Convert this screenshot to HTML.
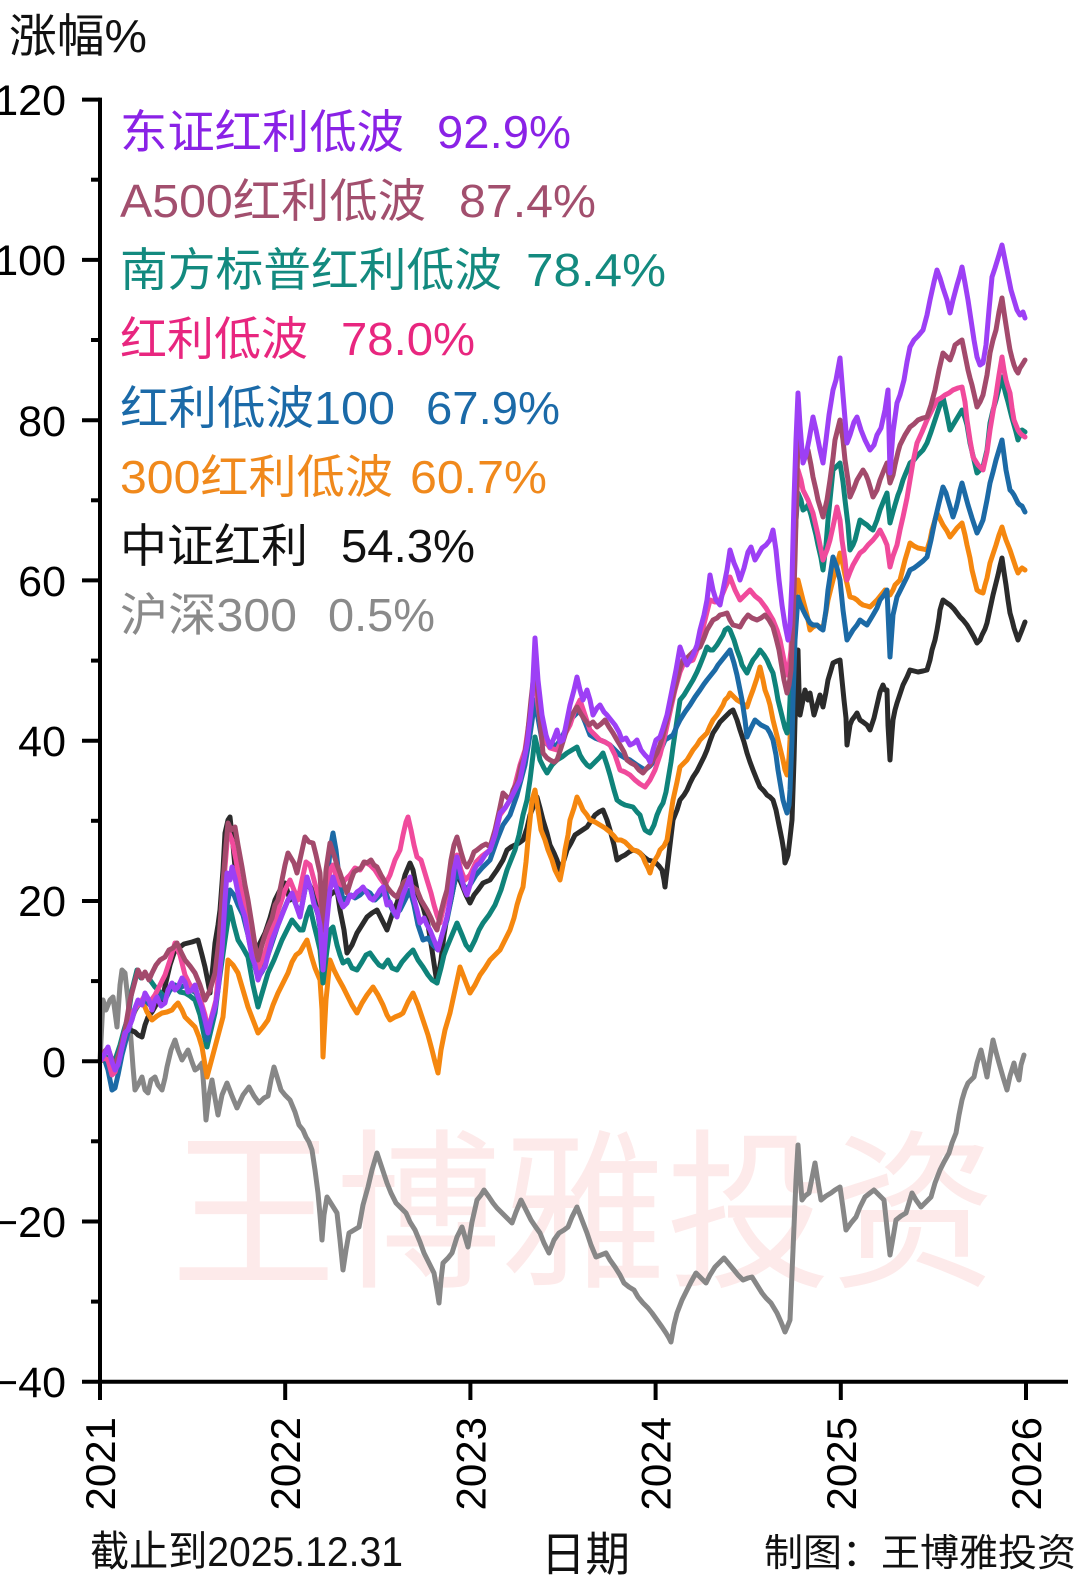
<!DOCTYPE html>
<html>
<head>
<meta charset="utf-8">
<style>
html,body{margin:0;padding:0;background:#fff;}
svg{display:block;}
text{font-family:"Liberation Sans","Noto Sans CJK SC",sans-serif;}
</style>
</head>
<body>
<svg width="1080" height="1578" viewBox="0 0 1080 1578" xmlns="http://www.w3.org/2000/svg">
<rect width="1080" height="1578" fill="#fff"/>

<!-- watermark -->
<text x="171" y="1274" font-size="172" fill="#fdeaea" textLength="825" lengthAdjust="spacingAndGlyphs">王博雅投资</text>

<!-- y label -->
<text x="9" y="52" font-size="46" fill="#111" textLength="138" lengthAdjust="spacingAndGlyphs">涨幅%</text>

<!-- series -->
<g fill="none" stroke-width="5" stroke-linejoin="round" stroke-linecap="round">
<!-- gray 沪深300 -->
<polyline stroke="#878787" points="100,1061 103,1000 106,1010 110,1000 113,997 117,1027 120,985 122,970 125,973 128,1000 131,1040 133,1067 135,1090 138,1085 142,1077 145,1090 148,1093 151,1080 155,1077 158,1085 162,1090 165,1078 167,1067 171,1050 175,1040 178,1050 182,1060 185,1055 188,1050 192,1062 195,1070 198,1068 202,1063 204,1090 206,1120 209,1095 212,1080 215,1098 218,1115 222,1095 227,1083 232,1096 237,1108 243,1095 249,1087 254,1096 259,1103 264,1098 268,1096 271,1080 274,1067 278,1080 281,1090 285,1095 290,1100 295,1112 299,1125 303,1130 306,1137 309,1142 312,1150 315,1170 318,1193 320,1215 322,1240 324,1215 327,1197 332,1205 337,1213 340,1240 343,1270 346,1250 349,1233 354,1230 359,1227 363,1205 368,1187 372,1170 377,1153 382,1168 387,1183 391,1193 396,1203 401,1208 406,1213 410,1222 415,1230 420,1242 424,1253 429,1263 434,1273 437,1290 439,1303 441,1280 443,1263 448,1258 452,1253 457,1237 462,1227 465,1237 468,1247 472,1222 477,1200 481,1195 484,1190 489,1197 493,1203 497,1208 502,1213 507,1218 512,1223 516,1212 521,1200 526,1210 531,1220 535,1226 540,1233 544,1243 549,1253 554,1240 559,1233 564,1230 568,1227 572,1217 577,1207 582,1220 587,1233 591,1245 596,1257 601,1255 606,1253 610,1260 615,1267 620,1275 624,1283 629,1287 634,1290 638,1297 643,1303 648,1308 652,1313 657,1320 662,1327 666,1333 669,1338 671,1342 674,1325 677,1313 682,1300 687,1290 691,1282 696,1273 701,1278 706,1283 710,1275 715,1267 720,1262 724,1258 729,1264 734,1270 738,1275 743,1280 748,1278 752,1277 757,1285 762,1293 766,1298 771,1303 774,1308 777,1313 781,1322 785,1332 788,1325 790,1320 793,1250 796,1180 798,1145 800,1175 802,1200 805,1196 809,1193 812,1178 815,1163 818,1182 821,1200 826,1196 831,1193 835,1190 840,1187 843,1208 846,1230 851,1223 856,1217 860,1207 865,1197 870,1193 874,1190 879,1195 884,1200 887,1228 890,1255 893,1238 896,1220 901,1216 906,1213 909,1203 912,1193 916,1200 921,1207 926,1202 931,1197 935,1183 940,1170 944,1162 949,1153 952,1143 956,1133 959,1115 962,1100 965,1090 968,1083 971,1080 974,1077 977,1063 981,1050 984,1063 987,1077 990,1058 993,1040 996,1052 999,1063 1003,1077 1007,1090 1010,1076 1014,1063 1016,1072 1019,1080 1021,1065 1024,1055"/>

<!-- black 中证红利 -->
<polyline stroke="#2b2b2b" points="100,1061 104,1058 108,1063 112,1066 115,1062 120,1050 125,1035 130,1030 135,1032 138,1035 142,1037 145,1025 148,1017 152,1012 156,1005 160,1002 162,1000 166,982 170,965 175,950 180,947 184,944 188,943 192,942 195,941 198,940 202,955 205,967 208,982 210,993 213,965 215,943 218,925 220,910 223,870 225,833 228,820 230,817 233,845 235,867 240,885 245,900 250,925 255,953 260,943 265,933 270,918 275,900 280,890 285,883 290,900 295,893 300,895 305,885 307,880 312,890 317,905 320,908 323,917 327,905 330,895 334,892 337,890 340,910 344,930 347,953 352,945 357,933 362,925 367,917 372,913 377,910 382,920 387,930 392,915 397,903 401,890 405,875 410,863 413,870 418,895 423,907 428,925 432,950 435,970 437,983 441,960 444,935 447,917 451,900 454,885 457,873 462,885 466,895 470,903 474,895 478,890 483,883 490,880 497,870 503,860 507,850 511,847 515,845 519,843 523,840 527,828 530,815 534,805 537,797 540,808 543,820 547,833 550,845 554,853 557,860 560,870 564,860 567,850 571,843 575,835 581,831 587,827 591,821 595,815 599,812 603,810 607,820 610,830 614,845 617,860 621,857 625,855 629,852 633,850 637,851 640,853 644,857 648,860 652,861 655,862 659,866 662,870 664,880 665,887 666,878 667,870 670,845 673,820 677,810 680,800 684,795 687,790 690,783 693,777 697,771 700,765 704,757 707,750 710,741 713,733 717,727 720,722 724,718 727,715 730,712 733,710 737,720 740,730 744,742 747,753 750,762 753,770 757,780 760,787 764,791 767,795 770,797 773,800 776,810 778,820 780,830 782,840 784,852 785,863 787,858 788,855 790,838 792,820 794,760 795,720 797,680 798,650 799,690 800,715 803,700 805,690 808,700 810,693 814,715 817,705 820,695 823,707 826,692 828,680 831,670 833,663 837,661 840,660 842,680 844,700 846,718 847,745 850,725 852,720 855,716 857,713 860,720 863,722 867,725 870,730 874,718 877,705 880,692 883,685 885,690 887,690 888,725 890,760 892,732 893,720 895,710 897,703 900,694 903,685 907,677 910,670 914,671 918,672 923,671 927,670 930,660 932,650 935,640 937,630 939,618 940,610 942,603 943,600 947,603 950,605 954,609 957,613 960,617 963,620 967,625 970,630 974,637 977,643 980,640 982,635 985,629 987,623 990,609 993,595 996,583 998,575 1000,566 1002,558 1004,572 1006,585 1008,600 1010,613 1012,620 1014,628 1016,634 1018,640 1020,635 1022,630 1025,622"/>

<!-- orange 300红利低波 -->
<polyline stroke="#f5870f" points="100,1061 104,1060 108,1062 112,1066 115,1063 120,1050 124,1037 128,1027 133,1015 138,1005 142,1000 147,1012 152,1020 157,1016 162,1013 167,1012 172,1010 175,1006 178,1003 182,1010 185,1017 190,1022 195,1027 199,1037 202,1047 205,1065 207,1077 211,1062 215,1047 219,1032 223,1017 226,985 228,960 233,965 238,973 243,990 248,1007 253,1020 258,1033 263,1027 268,1020 273,1005 278,993 283,983 288,973 292,962 296,955 300,952 304,945 307,940 311,955 315,968 320,980 322,1010 323,1057 326,1000 330,960 334,970 338,978 343,987 347,995 352,1005 357,1013 362,1003 367,995 373,987 378,995 383,1005 387,1015 390,1020 395,1017 400,1015 403,1013 408,1002 413,993 418,1005 423,1020 428,1035 432,1050 435,1062 438,1073 441,1050 445,1030 450,1013 455,990 460,967 465,980 470,993 475,985 480,975 485,968 490,960 495,955 500,950 505,940 510,930 514,918 517,905 520,895 523,887 526,862 528,840 530,820 532,800 535,790 538,810 541,830 545,840 548,850 552,860 555,870 560,880 563,865 565,850 568,835 570,820 574,808 577,797 580,803 583,810 587,815 590,820 595,822 600,825 605,828 610,832 614,836 617,840 621,840 625,842 629,846 633,850 637,851 640,853 643,857 645,862 648,868 650,873 652,866 655,860 658,855 660,850 664,846 667,840 670,820 673,800 677,782 680,767 684,763 687,760 690,755 693,750 697,745 700,740 704,736 707,733 710,726 713,720 717,715 720,710 723,705 725,700 728,697 730,693 734,697 737,700 742,703 747,707 750,698 753,690 757,678 760,667 763,680 765,690 768,698 770,705 773,720 776,732 778,740 781,752 783,760 785,770 787,775 789,758 790,740 792,680 793,630 796,595 798,580 801,592 803,600 807,615 810,630 813,627 817,625 820,627 823,628 826,612 828,600 831,588 833,580 837,565 840,553 843,565 845,575 848,588 850,597 854,598 857,600 860,603 863,605 867,606 870,607 874,603 877,600 881,595 885,590 888,593 890,595 893,590 895,585 898,582 900,580 903,568 905,560 908,550 910,543 914,546 918,548 923,549 927,550 930,540 932,530 935,520 937,513 940,519 943,525 947,531 950,537 954,532 957,528 960,525 962,523 965,535 967,545 970,558 972,570 975,582 977,590 980,592 983,593 985,585 987,578 990,563 993,554 996,545 999,535 1002,527 1004,534 1006,540 1008,545 1010,550 1012,556 1014,562 1016,568 1018,573 1020,570 1022,568 1025,570"/>

<!-- teal 南方标普红利低波 -->
<polyline stroke="#0f837a" points="100,1061 104,1056 108,1058 112,1063 115,1060 120,1045 124,1030 128,1017 132,990 137,970 141,978 145,973 150,980 155,987 160,992 165,997 170,990 175,987 180,992 185,993 190,996 195,1000 200,1015 204,1035 207,1047 211,1030 215,1013 220,975 225,940 230,907 234,925 238,940 243,948 248,957 253,985 258,1007 263,990 268,973 274,960 278,950 282,940 287,930 292,920 296,925 300,930 303,930 307,915 310,907 314,925 317,937 320,950 323,983 327,950 330,930 333,927 337,945 340,955 343,963 348,960 352,968 357,970 362,962 366,955 370,953 375,960 379,965 383,967 388,960 392,968 397,970 402,962 408,955 413,950 418,960 423,967 428,975 432,980 437,983 441,968 444,955 447,947 452,935 457,923 462,935 466,945 470,950 475,940 479,930 483,923 489,915 495,905 501,890 507,870 511,860 515,850 519,835 523,815 527,800 530,780 533,755 535,737 538,750 540,760 544,768 547,773 552,765 557,760 562,757 567,753 572,750 577,747 580,755 583,760 587,765 590,767 594,763 597,760 600,757 603,753 607,765 610,775 614,790 617,800 621,803 625,805 629,806 633,807 637,812 640,815 643,825 645,830 648,832 650,833 654,825 657,815 660,808 663,803 666,792 668,780 671,762 673,747 677,720 680,700 684,695 687,690 690,685 693,680 697,672 700,665 704,655 707,647 710,650 713,650 717,645 720,640 723,635 725,630 728,628 730,630 734,640 737,650 740,658 742,665 745,670 747,673 750,666 753,660 757,655 760,650 764,655 767,660 770,667 773,673 776,688 778,700 781,712 783,720 785,728 787,733 789,722 790,700 792,640 793,580 796,520 798,493 801,500 803,510 806,508 808,505 811,515 813,523 816,535 818,545 821,558 823,570 826,545 828,520 831,490 833,470 837,466 840,463 843,482 845,500 848,525 850,550 853,545 855,540 858,528 860,520 864,523 867,525 870,528 873,530 877,520 880,510 884,500 887,493 890,523 893,512 895,505 898,495 900,490 903,480 905,475 908,468 910,463 914,460 918,455 923,450 927,443 931,432 935,420 939,408 943,397 947,415 950,430 953,425 956,420 959,415 962,410 965,418 967,425 970,443 974,460 977,473 980,470 983,467 987,450 990,423 993,410 996,400 999,388 1002,377 1004,387 1006,395 1008,402 1010,410 1012,418 1014,425 1016,432 1018,440 1020,435 1022,430 1025,432"/>

<!-- blue 红利低波100 -->
<polyline stroke="#1c6aa6" points="100,1061 104,1058 108,1070 112,1090 115,1088 118,1075 122,1055 126,1040 130,1025 135,1010 140,1003 145,1000 150,1005 155,998 160,995 165,1000 170,990 175,985 180,988 185,985 190,990 195,992 200,1000 204,1020 207,1040 211,1025 215,1010 220,965 225,915 230,890 234,895 238,905 243,915 248,935 253,960 258,978 263,970 268,955 273,940 278,925 283,912 288,900 292,895 296,905 300,915 304,895 307,880 311,890 314,902 318,915 321,935 323,965 326,900 330,850 333,833 336,850 340,885 343,900 347,898 351,895 355,898 360,895 365,890 370,893 375,900 380,895 385,890 390,905 395,915 400,910 405,900 410,890 414,905 418,925 423,940 428,938 433,945 438,950 442,935 447,920 452,895 457,870 462,882 466,890 470,885 476,875 482,868 490,860 497,840 503,825 510,815 517,795 525,765 530,735 535,700 538,718 542,740 548,745 557,745 563,735 570,720 575,715 580,710 585,722 590,735 595,738 600,740 605,742 610,745 615,750 620,755 625,758 630,760 637,765 645,770 650,766 655,760 660,752 665,740 670,737 673,735 677,726 680,720 685,712 690,705 695,697 700,690 704,684 707,680 711,675 715,670 718,665 722,660 726,655 730,650 734,663 737,675 740,690 742,700 745,720 747,737 751,728 755,720 761,725 767,728 770,733 773,740 776,755 778,770 781,788 783,800 785,807 787,813 789,805 790,790 792,740 793,700 795,640 798,597 800,603 803,610 806,616 810,623 813,625 817,625 820,628 823,630 826,610 828,590 831,570 833,557 837,568 840,580 843,610 847,640 850,635 853,630 857,625 860,620 864,623 867,625 870,620 873,615 877,608 880,600 884,595 887,590 890,657 893,615 897,597 900,591 903,585 907,577 910,570 914,568 918,565 923,561 927,557 931,540 935,520 939,503 943,487 946,493 948,500 951,510 953,517 956,508 958,500 960,490 962,483 965,494 968,505 972,518 977,533 980,527 983,520 987,500 990,483 993,472 996,460 999,450 1002,440 1004,455 1006,470 1008,480 1010,490 1012,492 1014,495 1016,499 1018,503 1020,505 1022,506 1025,512"/>

<!-- pink 红利低波 -->
<polyline stroke="#f04a9c" points="100,1061 104,1058 108,1060 112,1075 115,1072 120,1055 125,1035 130,1015 134,1010 138,1005 142,1000 145,995 150,1002 155,995 160,985 165,975 170,960 175,943 180,955 185,975 190,985 195,990 200,998 205,1015 208,1030 212,1015 216,1000 220,955 224,880 228,830 232,840 236,860 240,885 245,905 250,930 255,955 258,970 262,960 266,950 270,935 275,920 280,905 285,890 290,880 294,890 298,900 302,880 306,862 310,865 314,880 318,895 321,905 323,950 326,900 330,870 333,865 337,880 341,885 345,880 350,875 355,868 360,870 365,862 370,865 375,870 380,878 385,885 390,875 395,860 400,850 403,835 406,822 408,817 411,830 414,845 417,857 421,860 424,870 427,880 431,893 434,905 437,915 440,923 444,905 447,895 451,875 454,862 457,855 461,870 465,880 470,875 476,862 482,856 490,850 495,835 500,815 505,808 510,800 515,785 520,765 525,750 530,715 535,670 538,705 542,735 546,742 550,748 557,750 563,738 570,725 575,710 580,700 585,715 590,730 595,735 600,740 605,742 610,745 615,755 620,770 625,772 630,775 635,780 640,784 645,787 650,780 655,770 660,755 665,735 670,712 675,690 680,672 683,665 688,662 693,660 697,650 700,640 705,620 710,600 715,602 720,600 725,588 730,577 735,590 740,600 745,595 750,590 755,596 760,600 766,608 773,620 777,630 780,640 784,660 787,675 789,668 791,650 793,600 795,540 798,470 801,480 803,490 808,500 813,513 818,535 823,560 827,550 830,540 834,522 837,507 840,520 842,540 845,560 847,580 850,572 853,565 857,558 860,553 864,550 868,545 873,540 877,535 880,530 884,538 887,545 890,567 893,556 897,545 900,530 903,517 907,498 910,480 913,462 917,443 922,432 927,420 932,410 937,400 941,398 945,395 949,393 953,390 958,388 962,387 965,402 967,420 970,440 973,457 978,465 983,470 987,452 990,430 993,412 996,395 999,375 1002,357 1004,370 1006,380 1008,387 1010,393 1012,408 1014,420 1016,425 1018,430 1020,433 1022,435 1025,437"/>

<!-- A500 -->
<polyline stroke="#a34a6c" points="100,1061 104,1052 108,1048 112,1060 115,1066 120,1050 125,1030 130,1000 134,985 138,970 142,978 145,972 149,980 152,973 156,965 160,960 165,957 169,950 173,948 177,943 181,952 185,960 190,966 195,973 200,985 205,1000 210,990 215,973 219,940 223,883 226,845 228,823 231,830 235,827 238,845 242,867 245,885 248,900 252,925 255,945 258,960 262,945 265,935 268,927 272,918 275,905 278,900 282,880 285,865 288,853 291,858 294,863 297,873 301,855 305,837 309,842 313,843 316,855 320,873 323,930 326,870 330,843 334,855 337,865 340,873 344,885 347,893 351,880 354,872 357,870 361,868 364,862 367,863 371,860 374,865 377,867 381,875 384,880 387,887 391,892 394,895 397,897 401,888 404,882 407,880 411,885 414,888 417,890 421,900 424,905 427,910 431,918 434,925 437,930 441,912 444,900 447,890 451,860 454,845 457,837 461,852 464,862 467,867 471,860 474,852 477,850 482,846 486,844 490,847 495,830 499,812 503,793 507,797 510,800 513,790 517,783 521,765 524,758 527,740 531,700 533,682 535,670 538,695 540,720 543,753 547,758 550,760 554,762 557,760 561,748 565,735 569,722 572,715 575,710 577,707 581,714 585,720 589,725 593,722 597,727 601,724 605,720 609,727 613,733 617,740 620,745 624,752 627,760 631,763 635,765 639,770 643,773 647,768 650,765 654,758 657,753 660,745 663,735 667,720 670,707 674,692 677,680 680,668 683,660 687,658 690,655 695,650 700,647 704,638 707,630 710,625 713,620 717,618 720,615 724,614 727,613 730,620 733,625 737,626 740,627 744,620 748,615 752,618 757,620 761,618 765,615 769,620 773,627 776,638 779,650 782,668 784,680 787,693 789,685 791,670 793,620 795,560 797,480 798,433 801,448 803,460 806,455 808,450 811,465 813,477 816,490 818,500 821,510 823,517 827,500 830,480 833,458 835,440 838,428 840,420 843,440 845,460 848,480 850,497 854,488 857,480 860,475 863,470 866,475 868,480 871,490 873,497 877,490 880,480 884,470 887,463 890,483 893,475 895,465 898,452 900,445 905,435 910,427 914,424 918,420 923,418 927,417 931,405 935,390 939,370 943,353 947,357 950,360 953,352 955,345 959,342 962,340 965,355 968,370 970,378 972,385 975,398 977,407 980,402 983,395 987,375 990,353 993,340 996,330 999,312 1002,298 1004,312 1006,325 1008,338 1010,350 1012,358 1014,365 1016,370 1018,373 1020,368 1022,365 1025,360"/>

<!-- purple 东证红利低波 -->
<polyline stroke="#9d3ff5" points="100,1061 104,1055 108,1047 112,1062 115,1070 118,1065 120,1057 125,1033 128,1030 132,1020 135,1008 138,1000 142,1005 145,993 149,1000 152,1010 155,1000 157,997 161,1006 165,1003 168,990 172,983 175,990 178,987 182,978 185,982 188,992 192,990 195,985 198,997 202,1008 205,1020 208,1033 211,1020 215,1007 218,990 222,950 225,900 227,873 230,880 232,867 235,878 238,893 241,905 245,917 248,935 252,957 255,965 258,980 261,972 265,967 268,955 272,940 276,930 280,920 284,910 288,900 292,893 296,905 300,917 304,895 307,877 311,890 314,905 317,910 320,925 323,970 326,930 330,890 333,877 337,890 340,900 343,907 347,903 350,895 353,897 357,892 360,890 363,887 367,893 370,898 373,900 377,895 380,890 383,887 387,905 390,902 393,910 397,917 400,905 403,895 407,885 410,877 413,895 417,910 420,923 424,918 427,925 430,930 434,940 438,950 442,935 447,917 451,895 454,870 457,857 461,875 464,888 467,895 470,885 474,870 477,865 480,863 485,855 490,850 495,835 500,813 505,808 510,800 515,790 520,780 524,760 527,745 530,720 532,700 535,638 538,680 542,715 546,735 550,747 554,738 557,730 560,742 563,740 567,720 570,705 574,690 577,677 580,690 583,700 587,690 590,700 593,715 597,708 600,705 604,712 607,715 611,720 615,725 619,732 622,740 626,738 630,745 634,743 637,740 641,750 645,755 648,758 650,762 653,750 656,740 660,737 663,728 667,715 670,700 673,685 676,670 680,647 684,658 687,665 690,660 693,655 697,645 700,630 704,615 707,600 710,575 713,590 716,600 720,605 723,590 727,570 730,550 734,563 737,570 740,580 744,568 748,552 751,547 755,560 758,555 762,548 766,545 770,540 773,530 776,550 779,580 782,605 785,625 788,640 790,625 792,580 794,500 796,440 798,393 800,425 803,463 806,455 809,440 813,417 816,430 820,450 823,463 826,440 829,415 833,390 836,380 840,358 843,395 847,443 850,435 854,422 857,417 861,430 865,440 870,450 874,445 877,435 881,428 885,410 888,390 890,473 893,432 897,403 900,395 904,380 907,362 910,347 914,340 918,336 923,330 927,315 930,300 934,282 937,270 940,278 943,288 947,300 950,313 953,300 957,285 960,275 962,267 965,283 968,300 971,320 974,340 977,357 980,365 983,363 986,345 989,310 992,277 995,268 999,255 1002,245 1005,260 1008,275 1011,290 1014,300 1017,310 1020,315 1023,312 1025,318"/>
</g>

<!-- axes -->
<g stroke="#000" stroke-width="4" fill="none">
<line x1="100" y1="97.6" x2="100" y2="1400"/>
<line x1="98" y1="1381.7" x2="1068" y2="1381.7"/>
<!-- major y ticks -->
<line x1="82" y1="99.6" x2="100" y2="99.6"/>
<line x1="82" y1="259.9" x2="100" y2="259.9"/>
<line x1="82" y1="420.2" x2="100" y2="420.2"/>
<line x1="82" y1="580.4" x2="100" y2="580.4"/>
<line x1="82" y1="740.7" x2="100" y2="740.7"/>
<line x1="82" y1="901.0" x2="100" y2="901.0"/>
<line x1="82" y1="1061.2" x2="100" y2="1061.2"/>
<line x1="82" y1="1221.5" x2="100" y2="1221.5"/>
<line x1="82" y1="1381.7" x2="100" y2="1381.7"/>
<!-- minor y ticks -->
<line x1="91" y1="179.7" x2="100" y2="179.7"/>
<line x1="91" y1="340.0" x2="100" y2="340.0"/>
<line x1="91" y1="500.3" x2="100" y2="500.3"/>
<line x1="91" y1="660.6" x2="100" y2="660.6"/>
<line x1="91" y1="820.8" x2="100" y2="820.8"/>
<line x1="91" y1="981.1" x2="100" y2="981.1"/>
<line x1="91" y1="1141.3" x2="100" y2="1141.3"/>
<line x1="91" y1="1301.6" x2="100" y2="1301.6"/>
<!-- x ticks -->
<line x1="285.2" y1="1381.7" x2="285.2" y2="1400"/>
<line x1="470.4" y1="1381.7" x2="470.4" y2="1400"/>
<line x1="655.6" y1="1381.7" x2="655.6" y2="1400"/>
<line x1="840.8" y1="1381.7" x2="840.8" y2="1400"/>
<line x1="1026" y1="1381.7" x2="1026" y2="1400"/>
</g>

<!-- y tick labels -->
<g font-size="43" fill="#000" text-anchor="end">
<text x="66" y="115">120</text>
<text x="66" y="275">100</text>
<text x="66" y="436">80</text>
<text x="66" y="596">60</text>
<text x="66" y="756">40</text>
<text x="66" y="916">20</text>
<text x="66" y="1077">0</text>
<text x="66" y="1237">−20</text>
<text x="66" y="1397">−40</text>
</g>

<!-- x tick labels (rotated) -->
<g font-size="42" fill="#000" text-anchor="end">
<text transform="translate(115,1417) rotate(-90)">2021</text>
<text transform="translate(300.2,1417) rotate(-90)">2022</text>
<text transform="translate(485.4,1417) rotate(-90)">2023</text>
<text transform="translate(670.6,1417) rotate(-90)">2024</text>
<text transform="translate(855.8,1417) rotate(-90)">2025</text>
<text transform="translate(1041,1417) rotate(-90)">2026</text>
</g>

<!-- legend -->
<g font-size="46">
<text x="120" y="148" fill="#8a22e6" textLength="284" lengthAdjust="spacingAndGlyphs">东证红利低波</text>
<text x="437" y="148" fill="#8a22e6" textLength="134" lengthAdjust="spacingAndGlyphs">92.9%</text>
<text x="120" y="217" fill="#a24f6e" textLength="306" lengthAdjust="spacingAndGlyphs">A500红利低波</text>
<text x="459" y="217" fill="#a24f6e" textLength="137" lengthAdjust="spacingAndGlyphs">87.4%</text>
<text x="120" y="286" fill="#138a7f" textLength="382" lengthAdjust="spacingAndGlyphs">南方标普红利低波</text>
<text x="526" y="286" fill="#138a7f" textLength="140" lengthAdjust="spacingAndGlyphs">78.4%</text>
<text x="120" y="355" fill="#e8267f" textLength="188" lengthAdjust="spacingAndGlyphs">红利低波</text>
<text x="341" y="355" fill="#e8267f" textLength="134" lengthAdjust="spacingAndGlyphs">78.0%</text>
<text x="120" y="424" fill="#1b6aa8" textLength="275" lengthAdjust="spacingAndGlyphs">红利低波100</text>
<text x="426" y="424" fill="#1b6aa8" textLength="134" lengthAdjust="spacingAndGlyphs">67.9%</text>
<text x="120" y="493" fill="#f0891c" textLength="273" lengthAdjust="spacingAndGlyphs">300红利低波</text>
<text x="410" y="493" fill="#f0891c" textLength="137" lengthAdjust="spacingAndGlyphs">60.7%</text>
<text x="120" y="562" fill="#111" textLength="188" lengthAdjust="spacingAndGlyphs">中证红利</text>
<text x="341" y="562" fill="#111" textLength="134" lengthAdjust="spacingAndGlyphs">54.3%</text>
<text x="120" y="631" fill="#8a8a8a" textLength="177" lengthAdjust="spacingAndGlyphs">沪深300</text>
<text x="328" y="631" fill="#8a8a8a" textLength="107" lengthAdjust="spacingAndGlyphs">0.5%</text>
</g>

<!-- bottom labels -->
<text x="90" y="1566" font-size="42" fill="#111" textLength="313" lengthAdjust="spacingAndGlyphs">截止到2025.12.31</text>
<text x="541" y="1571" font-size="47" fill="#111" textLength="89" lengthAdjust="spacingAndGlyphs">日期</text>
<text x="764" y="1566" font-size="38" fill="#111" textLength="312" lengthAdjust="spacingAndGlyphs">制图：王博雅投资</text>
</svg>
</body>
</html>
